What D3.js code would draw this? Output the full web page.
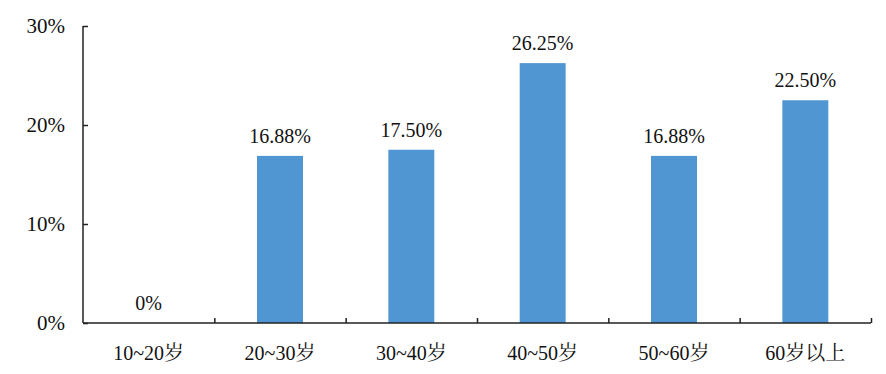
<!DOCTYPE html>
<html>
<head>
<meta charset="utf-8">
<script src="https://cdn.jsdelivr.net/npm/d3@7"></script>
<style>
  body { margin: 0; background: #fff; }
</style>
</head>
<body>
<div id="chart"></div>
<script>
  // data
  var categories = ["10~20岁", "20~30岁", "30~40岁", "40~50岁", "50~60岁", "60岁以上"];
  var values = [0, 16.88, 17.50, 26.25, 16.88, 22.50];
  var valueLabels = ["0%", "16.88%", "17.50%", "26.25%", "16.88%", "22.50%"];
  var yTicks = [0, 10, 20, 30];

  var width = 886, height = 374;
  var plotLeft = 83, plotRight = 871, plotTop = 26, plotBottom = 323;
  var barColor = "#5096d2";
  var fontFamily = "'Liberation Serif', 'Noto Serif CJK SC', 'Times New Roman', serif";
  var textColor = "#111";

  var svg = d3.select("#chart").append("svg")
    .attr("width", width)
    .attr("height", height);

  var x = d3.scaleBand()
    .domain(categories)
    .range([plotLeft, plotRight])
    .paddingInner(0.65)
    .paddingOuter(0.325);

  // band edges for the tick marks (one tick per category boundary)
  var xEdge = d3.scaleLinear().domain([0, categories.length]).range([plotLeft, plotRight]);

  var y = d3.scaleLinear().domain([0, 30]).range([plotBottom, plotTop]);

  // bars
  svg.selectAll("rect.bar")
    .data(values)
    .enter()
    .append("rect")
    .attr("class", "bar")
    .attr("x", function (d, i) { return x(categories[i]); })
    .attr("width", x.bandwidth())
    .attr("y", function (d) { return y(d); })
    .attr("height", function (d) { return plotBottom - y(d); })
    .attr("fill", barColor);

  // value labels
  svg.selectAll("text.val")
    .data(values)
    .enter()
    .append("text")
    .attr("class", "val")
    .attr("x", function (d, i) { return x(categories[i]) + x.bandwidth() / 2; })
    .attr("y", function (d) { return y(d) - 13; })
    .attr("text-anchor", "middle")
    .attr("font-family", fontFamily)
    .attr("fill", textColor)
    .style("font-size", "20px")
    .text(function (d, i) { return valueLabels[i]; });

  // y axis
  var yAxis = d3.axisRight(y)
    .tickValues(yTicks)
    .tickSize(5)
    .tickFormat("");
  var gy = svg.append("g")
    .attr("transform", "translate(" + plotLeft + ",0)")
    .call(yAxis);
  gy.select(".domain").attr("d", "M0," + plotTop + "V" + plotBottom);
  gy.selectAll("line, path").attr("stroke", "#222").attr("stroke-width", 1.5);

  svg.selectAll("text.ytick")
    .data(yTicks)
    .enter()
    .append("text")
    .attr("class", "ytick")
    .attr("x", 65)
    .attr("y", function (d) { return y(d); })
    .attr("dy", "0.35em")
    .attr("text-anchor", "end")
    .attr("font-family", fontFamily)
    .attr("fill", textColor)
    .style("font-size", "21px")
    .text(function (d) { return d + "%"; });

  // x axis, ticks point up into the plot
  var xAxis = d3.axisTop(xEdge)
    .tickValues(d3.range(1, categories.length + 1))
    .tickSize(5)
    .tickFormat("");
  var gx = svg.append("g")
    .attr("transform", "translate(0," + plotBottom + ")")
    .call(xAxis);
  gx.select(".domain").attr("d", "M" + plotLeft + ",0H" + plotRight);
  gx.selectAll("line, path").attr("stroke", "#222").attr("stroke-width", 1.5);

  svg.selectAll("text.xlab")
    .data(categories)
    .enter()
    .append("text")
    .attr("class", "xlab")
    .attr("x", function (d) { return x(d) + x.bandwidth() / 2; })
    .attr("y", 360)
    .attr("text-anchor", "middle")
    .attr("font-family", fontFamily)
    .attr("fill", textColor)
    .style("font-size", "20px")
    .text(function (d) { return d; });
</script>
</body>
</html>
